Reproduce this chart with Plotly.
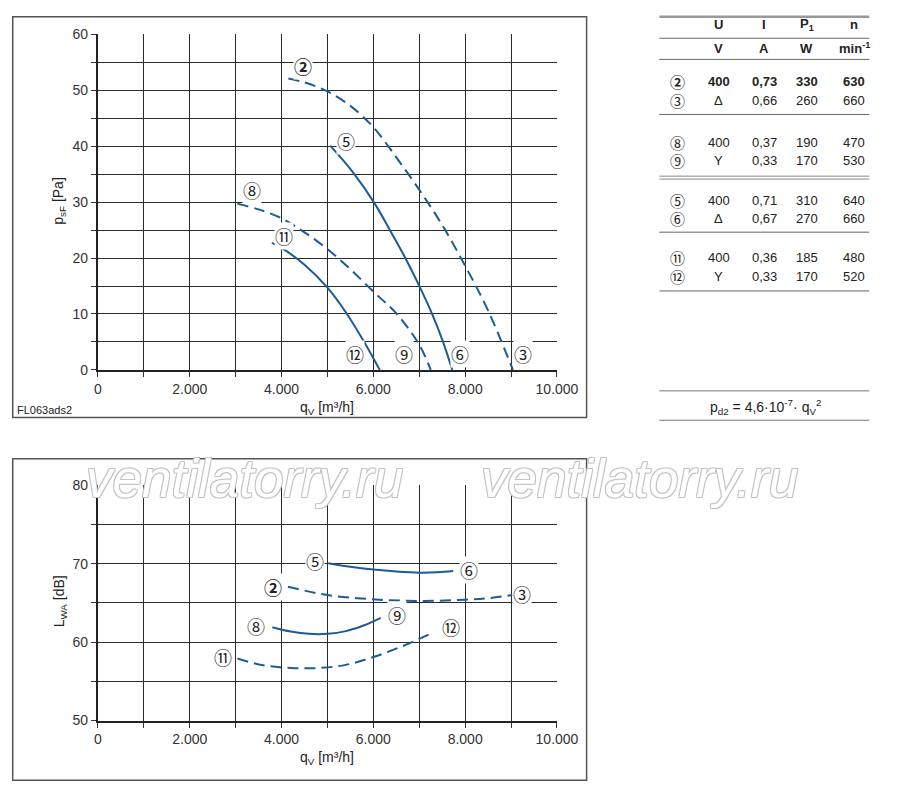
import plotly.graph_objects as go

# pressure curves p_sF [Pa] over flow q_V [m3/h]
q_23 = [4150, 4500, 5000, 5500, 6000, 6500, 7000, 7500, 8000, 8500, 9040]
p_23 = [52.1, 51.4, 49.8, 47.2, 43.4, 38.0, 32.2, 25.9, 18.6, 10.6, 0]
q_56 = [5060, 5540, 6010, 6360, 6690, 7010, 7270, 7510, 7720]
p_56 = [40.1, 35.5, 30.0, 25.0, 20.1, 14.85, 10.2, 5.2, 0]
q_89 = [3040, 3500, 4000, 4500, 5000, 5500, 6000, 6500, 7000, 7250]
p_89 = [29.7, 28.7, 27.1, 24.6, 21.6, 18.0, 14.0, 10.1, 4.5, 0]
q_1112 = [3790, 4000, 4500, 5000, 5400, 5800, 6140]
p_1112 = [22.7, 21.8, 18.8, 14.7, 10.3, 5.0, 0]

# sound power L_WA [dB] over flow
qs_56 = [5020, 5500, 6000, 6500, 7000, 7400, 7740]
l_56 = [70.05, 69.6, 69.25, 69.0, 68.85, 68.9, 69.05]
qs_23 = [4140, 5000, 6000, 7000, 8000, 8500, 9030]
l_23 = [67.05, 66.0, 65.45, 65.25, 65.4, 65.6, 66.0]
qs_89 = [3800, 4200, 4600, 5000, 5400, 5800, 6160]
l_89 = [61.9, 61.35, 61.05, 61.05, 61.4, 62.15, 63.1]
qs_1112 = [3040, 3600, 4200, 4800, 5400, 6000, 6600, 7260]
l_1112 = [57.9, 57.05, 56.7, 56.7, 57.1, 58.1, 59.4, 61.1]

# table
tab_head1 = ["U", "I", "P<sub>1</sub>", "n"]
tab_head2 = ["V", "A", "W", "min<sup>-1</sup>"]
tab_ids = ["②", "③", "⑧", "⑨", "⑤", "⑥", "⑪", "⑫"]
tab_u = ["400", "Δ", "400", "Y", "400", "Δ", "400", "Y"]
tab_i = ["0,73", "0,66", "0,37", "0,33", "0,71", "0,67", "0,36", "0,33"]
tab_p = ["330", "260", "190", "170", "310", "270", "185", "170"]
tab_n = ["630", "660", "470", "530", "640", "660", "480", "520"]

# the page keeps its default 8px body margin, so the figure is 16px smaller
# than the window and page positions are shifted by that margin
OFF = 8
W, H = 900 - 2 * OFF, 797 - 2 * OFF
FONT = "Liberation Sans, Arial, sans-serif"
CIRC = "Noto Sans CJK JP, DejaVu Sans, sans-serif"
BLUE = "#1b5b97"
DASH = "11px,6px"


def px(x):
    x = min(max(x - OFF, 0.75), W - 0.75)
    return x / W


def py(y):
    y = min(max(y - OFF, 0.75), H - 0.75)
    return 1 - y / H


fig = go.Figure()

curves_top = [(q_23, p_23, DASH), (q_56, p_56, "solid"),
              (q_89, p_89, DASH), (q_1112, p_1112, "solid")]
for q, p, d in curves_top:
    fig.add_trace(go.Scatter(x=q, y=p, mode="lines", xaxis="x", yaxis="y",
                             line=dict(color=BLUE, width=2, dash=d, shape="spline"),
                             showlegend=False, hoverinfo="skip"))

curves_bot = [(qs_56, l_56, "solid"), (qs_23, l_23, DASH),
              (qs_89, l_89, "solid"), (qs_1112, l_1112, DASH)]
for q, l, d in curves_bot:
    fig.add_trace(go.Scatter(x=q, y=l, mode="lines", xaxis="x2", yaxis="y2",
                             line=dict(color=BLUE, width=2, dash=d, shape="spline"),
                             showlegend=False, hoverinfo="skip"))

xdom = [px(96.5), px(569.5)]
minor_x = dict(dtick=1000, showgrid=True, gridcolor="#2a2a2a", gridwidth=1.2,
               ticks="outside", ticklen=5, tickcolor="#333")
minor_y = dict(dtick=5, showgrid=True, gridcolor="#2a2a2a", gridwidth=1.2,
               ticks="outside", ticklen=5, tickcolor="#333")
ax_common = dict(
    showgrid=True, gridcolor="#2a2a2a", gridwidth=1.2,
    showline=True, linecolor="#222", linewidth=2, mirror=False,
    ticks="outside", ticklen=5, tickcolor="#333", zeroline=False,
    tickfont=dict(family=FONT, size=14, color="#333"),
)
fig.update_layout(
    xaxis=dict(domain=xdom, range=[0, 10000], dtick=2000, tickformat=",d",
               minor=minor_x, anchor="y", **ax_common),
    yaxis=dict(domain=[py(369.3), py(26.7)], range=[0, 60], dtick=10,
               minor=minor_y, anchor="x", **ax_common),
    xaxis2=dict(domain=xdom, range=[0, 10000], dtick=2000, tickformat=",d",
                minor=minor_x, anchor="y2", **ax_common),
    yaxis2=dict(domain=[py(727.3), py(487)], range=[50, 80], dtick=10,
                minor=minor_y, anchor="x2", **ax_common),
    separators=",.",
    width=W, height=H,
    margin=dict(l=0, r=0, t=0, b=0),
    paper_bgcolor="white", plot_bgcolor="white",
    font=dict(family=FONT, color="#333"),
)

shapes = []
# frames around the two charts
for (x0, y0, x1, y1) in [(3, 3, 600, 418), (3, 460, 600, 791)]:
    shapes.append(dict(type="rect", xref="paper", yref="paper",
                       x0=px(x0), x1=px(x1), y0=py(y1), y1=py(y0),
                       line=dict(color="#555", width=1.5)))
# table rules
for y, c, w in [(3, "#999", 2.5), (30.7, "#666", 1), (52.3, "#666", 1),
                (108.5, "#666", 1), (171.5, "#888", 1), (174.5, "#888", 1),
                (228.7, "#666", 1), (288.7, "#666", 1), (390.7, "#777", 1),
                (420.7, "#777", 1)]:
    shapes.append(dict(type="line", xref="paper", yref="paper",
                       x0=px(675), x1=px(894), y0=py(y), y1=py(y),
                       line=dict(color=c, width=w)))
fig.update_layout(shapes=shapes)

ann = []


def txt(x, y, s, size=13, bold=False, family=FONT, **kw):
    ann.append(dict(xref="paper", yref="paper", x=px(x), y=py(y), text=s,
                    showarrow=False, xanchor="center", yanchor="middle",
                    font=dict(family=family, size=size, color="#222",
                              weight="bold" if bold else "normal"), **kw))


cols = [736, 783, 827, 876]
for c, h1, h2 in zip(cols, tab_head1, tab_head2):
    txt(c, 17, h1, bold=True)
    txt(c, 41, h2, bold=True)
rows_y = [75, 94, 137, 156, 196, 215, 255, 274]
for k, ry in enumerate(rows_y):
    b = k == 0
    txt(694, ry, tab_ids[k], size=15, bold=b, family=CIRC)
    for c, v in zip(cols, [tab_u[k], tab_i[k], tab_p[k], tab_n[k]]):
        txt(c, ry, v, bold=b)
txt(784, 407, "p<sub>d2</sub> = 4,6·10<sup>-7</sup>· q<sub>V</sub><sup>2</sup>", size=14)

# axis titles
txt(333, 408, "q<sub>V</sub> [m³/h]", size=14)
txt(333, 766, "q<sub>V</sub> [m³/h]", size=14)
txt(57, 197, "p<sub>sF</sub> [Pa]", size=14, textangle=-90)
txt(57, 606, "L<sub>WA</sub> [dB]", size=14, textangle=-90)
txt(41, 410, "FL063ads2", size=11)

# curve labels
labels_top = [("②", 4460, 54.3), ("⑤", 5410, 40.9), ("⑧", 3350, 32.2),
              ("⑪", 4050, 24.0), ("⑫", 5600, 2.8), ("⑨", 6670, 2.8),
              ("⑥", 7880, 2.8), ("③", 9260, 2.8)]
labels_bot = [("⑤", 4720, 70.3), ("⑥", 8090, 69.2), ("②", 3810, 67.05),
              ("③", 9240, 66.1), ("⑧", 3450, 62.1), ("⑨", 6520, 63.4),
              ("⑪", 2720, 58.1), ("⑫", 7700, 61.9)]
for (xr, yr, labs) in [("x", "y", labels_top), ("x2", "y2", labels_bot)]:
    for s, x, y in labs:
        ann.append(dict(xref=xr, yref=yr, x=x, y=y, text=s, showarrow=False,
                        bgcolor="white", borderpad=0,
                        font=dict(family=CIRC, size=18, color="#222",
                                  weight="bold" if s == "②" else "normal")))

# watermark
outline = ("-1px -1px 0 #c4c4c4, 1px -1px 0 #c4c4c4, "
           "-1px 1px 0 #c4c4c4, 1px 1px 0 #c4c4c4")
for cx in [248, 655]:
    ann.append(dict(xref="paper", yref="paper", x=px(cx), y=py(480),
                    text="ventilatorry.ru", showarrow=False,
                    xanchor="center", yanchor="middle",
                    font=dict(family=FONT, size=53, color="white",
                              style="italic", shadow=outline)))

fig.update_layout(annotations=ann)

fig.write_html("out.html", config={"displayModeBar": False})
